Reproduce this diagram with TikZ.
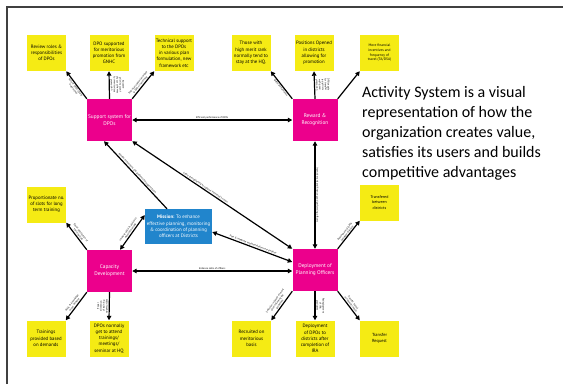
\documentclass[tikz,border=0pt]{standalone}
\usepackage{fontspec}
\setmainfont{PT Sans}
\newfontfamily\calfont{Carlito}
\usetikzlibrary{arrows.meta,calc}
\definecolor{mag}{RGB}{236,0,140}
\definecolor{yel}{RGB}{245,235,20}
\definecolor{misblue}{RGB}{33,133,204}
\begin{document}
\begin{tikzpicture}[x=1pt,y=-1pt,
 ybox/.style={fill=yel, minimum width=39pt, minimum height=36pt, inner sep=0.5pt, align=center, font=\fontsize{4.8}{6.2}\selectfont},
 mbox/.style={fill=mag, text=white, minimum width=45pt, minimum height=42pt, inner sep=0.5pt, align=center, font=\fontsize{5.3}{7}\selectfont},
 arr/.style={line width=1.2pt, -{Triangle[length=4.5pt,width=4.5pt]}},
 darr/.style={line width=1.2pt, {Triangle[length=4.5pt,width=4.5pt]}-{Triangle[length=4.5pt,width=4.5pt]}},
 elab/.style={font=\fontsize{2.5}{2.9}\selectfont, inner sep=0.6pt, sloped, align=center},
 big/.style={anchor=base west, inner sep=0pt, font=\calfont\fontsize{16}{20}\selectfont}
]
\useasboundingbox (0,0) rectangle (563,384);
\draw[line width=1.2pt, black!75] (7,384) -- (7,7) -- (563,7);

% main boxes
\node[mbox] (sup) at (109.5,120) {Support system for\\DPOs};
\node[mbox] (rew) at (315,120) {Reward \&\\Recognition};
\node[mbox] (cap) at (109.5,271) {Capacity\\Development};
\node[mbox] (dep) at (315,270) {Deployment of\\Planning Officers};
\node[fill=misblue, text=white, minimum width=67pt, minimum height=35pt, inner sep=0.5pt, align=center, font=\fontsize{4.9}{6.3}\selectfont] (mis) at (178.5,226.5)
  {\textbf{Mission:} To enhance\\effective planning, monitoring\\\& coordination of planning\\officers at Districts};

% yellow boxes
\node[ybox] (rev) at (46.5,53) {Review roles \&\\responsibilities\\of DPOs};
\node[ybox] (dps) at (109,53) {DPO supported\\for meritorious\\promotion from\\GNHC};
\node[ybox] (tec) at (174,53) {Technical support\\to the DPOs\\in various plan\\formulation, new\\framework etc};
\node[ybox] (tho) at (251,53) {Those with\\high merit rank\\normally tend to\\stay at the HQ.};
\node[ybox] (pos) at (314,53) {Positions Opened\\in districts\\allowing for\\promotion};
\node[ybox, font=\fontsize{3.6}{4.6}\selectfont] (fin) at (379.5,53) {More financial\\incentives and\\frequency of\\travel (TA/DSA)};
\node[ybox] (pro) at (46.5,204.5) {Proportionate no.\\of slots for long\\term training};
\node[ybox, font=\fontsize{4}{5.2}\selectfont] (tfd) at (379.5,202.5) {Transfered\\between\\districts};
\node[ybox] (trn) at (46,338.5) {Trainings\\provided based\\on demands};
\node[ybox] (att) at (109,338.5) {DPOs normally\\get to attend\\trainings/\\meetings/\\seminar at HQ};
\node[ybox] (rec) at (251.5,338.5) {Recruited on\\meritorious\\basis};
\node[ybox] (ddp) at (315,338.5) {Deployment\\of DPOs to\\districts after\\completion of\\IRA};
\node[ybox, font=\fontsize{4.4}{5.6}\selectfont] (tqr) at (379.5,338.5) {Transfer\\Request};

% side text
\node[big] (t1) at (362,97) {Activity System is a visual};
\node[big] (t2) at (362,117) {representation of how the};
\node[big] (t3) at (362,137) {organization creates value,};
\node[big] (t4) at (362,157) {satisfies its users and builds};
\node[big] (t5) at (362,177) {competitive advantages};

% connectors from Support
\draw[arr] (sup.north west) -- node[elab, below, pos=0.45] {Role of DPOs clearly\\determined} (rev.south east);
\draw[arr] (sup.north) -- node[elab, above] {Educate\\priority count\\of your schemes\\for meritorious\\promotion} (dps.south);
\draw[arr] (sup.north east) -- node[elab, above, pos=0.45] {Technical support provided\\to DPOs in planning} (tec.south west);
\draw[darr] (sup.east) -- node[elab, above] {Efficient performance of DPOs} (rew.west);

% connectors from Reward
\draw[arr] (rew.north west) -- node[elab, below, pos=0.45] {Better performance} (tho.south east);
\draw[arr] (rew.north) -- node[elab, above] {DPOs apply\\for transfer\\to districts\\with good\\promotion} (pos.south);
\draw[arr] (rew.north east) -- (fin.south west);
\draw[darr] (rew.south) -- node[elab, above] {Incentive rank and finance good performing officers} (dep.north);

% centre connectors
\draw[arr] ([xshift=-11.5pt]mis.north) -- node[elab, above] {Provide instructions and guidance through mission} ([xshift=-5.5pt]sup.south);
\draw[darr] (sup.south east) -- node[elab, above, pos=0.45] {Cadre strengthening to support individual's vision} (dep.north west);
\draw[darr] ([yshift=-5.5pt]mis.east) -- node[elab, above] {Plan \& integrate implementation/coordination} ([yshift=8pt]dep.west);
\draw[darr] ([xshift=10.5pt]cap.north) -- node[elab, above] {Improve skills \& ability to\\monitor/evaluate} ([yshift=11.5pt]mis.west);
\draw[darr] (cap.east) -- node[elab, above] {Enhance skills of officers} (cap.east -| dep.west);

% connectors from Capacity
\draw[arr] (cap.north west) -- node[elab, above] {Equal distribution of\\training slots} (pro.south east);
\draw[arr] (cap.south west) -- node[elab, above] {Skills \& knowledge\\as per demand} (trn.north east);
\draw[arr] (cap.south) -- node[elab, above] {Equal\\allocation\\of training\\opportunities} (att.north);

% connectors from Deployment
\draw[arr] (dep.north east) -- node[elab, above] {Deployment of DPOs\\between districts} (tfd.south west);
\draw[arr] (dep.south west) -- node[elab, above] {Selection is based on merit\\after following the\\guidelines} (rec.north east);
\draw[arr] (dep.south) -- node[elab, above] {Redeployment\\of IRA\\graduates} (ddp.north);
\draw[arr] (dep.south east) -- node[elab, above] {Transfer based\\on request/ needs} (tqr.north west);
\end{tikzpicture}
\end{document}
